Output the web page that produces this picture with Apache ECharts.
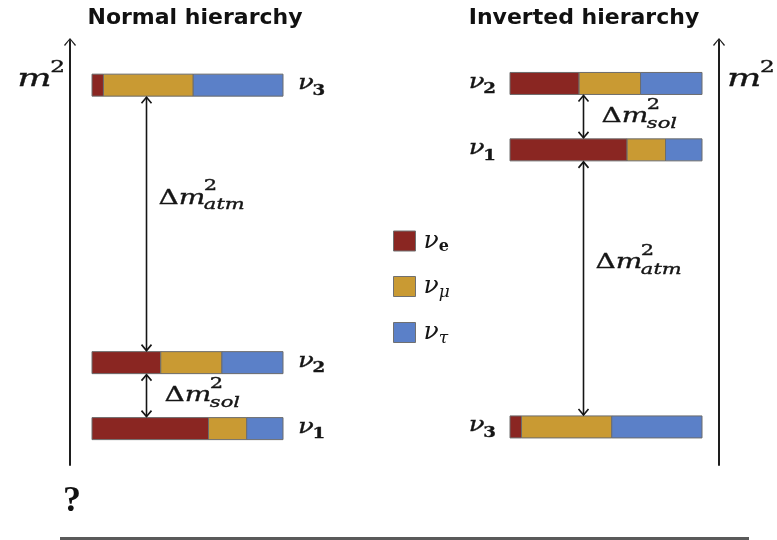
<!DOCTYPE html>
<html>
<head>
<meta charset="utf-8">
<script src="https://cdn.jsdelivr.net/npm/echarts@6/dist/echarts.min.js"></script>
<style>
  html, body { margin: 0; padding: 0; background: #ffffff; }
  #chart { width: 777px; height: 540px; }
</style>
</head>
<body>
<div id="chart"></div>
<script>
// Mass eigenstates ν1, ν2, ν3 and the flavour share of each one
const states = ['1', '2', '3'];
const flavours = ['e', 'μ', 'τ'];
const shareE   = [0.61, 0.36, 0.06];
const shareMu  = [0.20, 0.32, 0.47];
const shareTau = [0.19, 0.32, 0.47];

// Schematic m² level of ν1, ν2, ν3 in each ordering (axis runs 0 to 100)
const normalLevels   = [8.6, 24.2, 89.8];
const invertedLevels = [74.5, 90.2, 9.0];

// Splittings: [lower state, upper state, subscript of the label]
const normalGaps   = [[1, 2, 'atm'], [0, 1, 'sol']];
const invertedGaps = [[0, 1, 'sol'], [2, 0, 'atm']];

const panelTitles = ['Normal hierarchy', 'Inverted hierarchy'];

// ---------------------------------------------------------------- styling
const COLOURS = ['#8a2622', '#c99a33', '#5b80c8'];
const INK = '#151515';
const MATH_FAMILY = 'DejaVu Serif';
const MATH = '"DejaVu Serif", serif';
const BAR_H = 22;
const ARROW_X = [0.283, 0.38];   // horizontal place of the splitting arrows (fraction of bar)

const shares = [shareE, shareMu, shareTau];

const measureCtx = document.createElement('canvas').getContext('2d');
function textWidth(str, font) {
  measureCtx.font = font;
  return measureCtx.measureText(str).width;
}

// Builds a small math label: pieces run left to right; `stack` puts a piece
// under the previous one (sub below sup). Math is set a little wide.
function mathLabel(x, y, pieces, alignRight, stretch) {
  let cursor = 0, lastStart = 0;
  const children = [];
  pieces.forEach(p => {
    const start = p.stack ? lastStart : cursor;
    const w = textWidth(p.text, p.font);
    children.push({
      type: 'text', x: start, y: p.dy || 0,
      style: {
        text: p.text, font: p.font, fill: INK, stroke: INK, lineWidth: 0.35,
        align: 'left', verticalAlign: 'middle',
        textAlign: 'left', textVerticalAlign: 'middle'
      }
    });
    lastStart = start;
    cursor = Math.max(cursor, start + w + (p.gap || 0));
  });
  const width = cursor * stretch;
  return { type: 'group', x: alignRight ? x - width : x, y: y, scaleX: stretch, children: children };
}

function nuLabel(x, y, sub, alignRight) {
  return mathLabel(x, y, [
    { text: 'ν', font: 'italic 20px ' + MATH, gap: -1 },
    { text: sub, font: 'bold 14px ' + MATH, dy: 7 }
  ], alignRight, 1.3);
}

function deltaLabel(x, y, sub) {
  return mathLabel(x, y, [
    { text: 'Δ', font: '20px ' + MATH },
    { text: 'm', font: 'italic 20px ' + MATH, gap: -1 },
    { text: '2', font: '15px ' + MATH, dy: -12 },
    { text: sub, font: 'italic 15px ' + MATH, dy: 7, stack: true }
  ], false, 1.4);
}

function massLabel(x, y, alignRight) {
  return mathLabel(x, y, [
    { text: 'm', font: 'italic 25px ' + MATH, gap: -1 },
    { text: '2', font: '16px ' + MATH, dy: -11 }
  ], alignRight, 1.45);
}

// ---------------------------------------------------------------- series
function renderSegment(params, api) {
  const a = api.coord([api.value(0), api.value(2)]);
  const b = api.coord([api.value(1), api.value(2)]);
  return {
    type: 'rect',
    shape: { x: a[0], y: a[1] - BAR_H / 2, width: b[0] - a[0], height: BAR_H },
    style: { fill: api.visual('color'), stroke: '#6c6c6c', lineWidth: 1 }
  };
}

function flavourSeries(levels, g) {
  return flavours.map((f, k) => ({
    type: 'custom', name: f, xAxisIndex: g, yAxisIndex: g, silent: true,
    itemStyle: { color: COLOURS[k] },
    encode: { x: [0, 1], y: 2 },
    data: states.map((s, i) => {
      let start = 0;
      for (let j = 0; j < k; j++) start += shares[j][i];
      return [start, start + shares[k][i], levels[i]];
    }),
    renderItem: renderSegment
  }));
}

function stateLabelSeries(levels, g, onRight) {
  return {
    type: 'custom', xAxisIndex: g, yAxisIndex: g, silent: true,
    encode: { x: 0, y: 1 },
    data: levels.map(l => [onRight ? 1 : 0, l]),
    renderItem: (params, api) => {
      const p = api.coord([api.value(0), api.value(1)]);
      const x = onRight ? p[0] + 15 : p[0] - 14;
      return nuLabel(x, p[1] - 1, states[params.dataIndex], !onRight);
    }
  };
}

function gapSeries(levels, gaps, g) {
  return {
    type: 'custom', xAxisIndex: g, yAxisIndex: g, silent: true,
    encode: { x: 0, y: [1, 2] },
    data: gaps.map(gp => [ARROW_X[g], levels[gp[0]], levels[gp[1]]]),
    renderItem: (params, api) => {
      const lo = api.coord([api.value(0), api.value(1)]);
      const hi = api.coord([api.value(0), api.value(2)]);
      const x = Math.round(lo[0]) + 0.5;
      const yTop = hi[1] + BAR_H / 2 + 1;
      const yBot = lo[1] - BAR_H / 2 - 1;
      const kind = gaps[params.dataIndex][2];
      const ln = { stroke: INK, lineWidth: 1.6, fill: null };
      const ly = yTop + (yBot - yTop) * (kind === 'atm' ? 0.4 : 0.5);
      const lx = x + (kind === 'atm' ? 12 : 18);
      return {
        type: 'group',
        children: [
          { type: 'line', shape: { x1: x, y1: yTop, x2: x, y2: yBot }, style: ln },
          { type: 'polyline', shape: { points: [[x - 5, yTop + 6], [x, yTop], [x + 5, yTop + 6]] }, style: ln },
          { type: 'polyline', shape: { points: [[x - 5, yBot - 6], [x, yBot], [x + 5, yBot - 6]] }, style: ln },
          deltaLabel(lx, ly, kind)
        ]
      };
    }
  };
}

// ---------------------------------------------------------------- axes
const CHEVRON = 'path://M0,7 L6,0 L12,7 L11,8 L6.8,2.5 L6.8,8 L5.2,8 L5.2,2.5 L1,8 Z';
function massAxis(g, position, offset) {
  return {
    type: 'value', gridIndex: g, min: 0, max: 100, position: position, offset: offset,
    axisLine: {
      show: true, onZero: false,
      lineStyle: { color: '#1e1e1e', width: 2 },
      symbol: ['none', CHEVRON], symbolSize: [12, 8]
    },
    axisTick: { show: false }, axisLabel: { show: false }, splitLine: { show: false }
  };
}
function shareAxis(g) {
  return { type: 'value', gridIndex: g, min: 0, max: 1, show: false };
}

const option = {
  backgroundColor: '#ffffff',
  animation: false,
  color: COLOURS,
  title: panelTitles.map((t, i) => ({
    text: t, left: i === 0 ? 195 : 584, top: 7, textAlign: 'center', padding: 0,
    textStyle: { fontFamily: 'DejaVu Sans', fontWeight: 'bold', fontSize: 22, color: '#111' }
  })),
  grid: [
    { left: 92, width: 191, top: 42, bottom: 75 },
    { left: 510, width: 192, top: 42, bottom: 75 }
  ],
  xAxis: [shareAxis(0), shareAxis(1)],
  yAxis: [massAxis(0, 'left', 22), massAxis(1, 'right', 17)],
  legend: {
    orient: 'vertical', left: 393, top: 227, padding: 0,
    itemWidth: 22, itemHeight: 20, itemGap: 17, icon: 'rect',
    itemStyle: { borderColor: '#707070', borderWidth: 1 },
    data: flavours, selectedMode: false,
    formatter: name => '{nu|ν}{' + (name === 'e' ? 'sb' : 'si') + '|' + name + '}',
    textStyle: {
      rich: {
        nu: { fontFamily: MATH_FAMILY, fontStyle: 'italic', fontSize: 25, color: INK, lineHeight: 22, padding: [0, 0, 0, 3] },
        sb: { fontFamily: MATH_FAMILY, fontWeight: 'bold', fontSize: 16, color: INK, lineHeight: 14, padding: [12, 0, 0, 0] },
        si: { fontFamily: MATH_FAMILY, fontStyle: 'italic', fontSize: 17, color: INK, lineHeight: 15, padding: [12, 0, 0, 0] }
      }
    }
  },
  graphic: [
    massLabel(65, 79, true),
    massLabel(727, 79, false),
    { type: 'text', x: 63, y: 502,
      style: { text: '?', font: 'bold 36px "Liberation Serif", serif', fill: '#111',
               align: 'left', verticalAlign: 'middle', textAlign: 'left', textVerticalAlign: 'middle' } },
    { type: 'line', shape: { x1: 60, y1: 538.5, x2: 749, y2: 538.5 },
      style: { stroke: '#5a5a5a', lineWidth: 3 } }
  ],
  series: [].concat(
    flavourSeries(normalLevels, 0),
    flavourSeries(invertedLevels, 1),
    [stateLabelSeries(normalLevels, 0, true), stateLabelSeries(invertedLevels, 1, false)],
    [gapSeries(normalLevels, normalGaps, 0), gapSeries(invertedLevels, invertedGaps, 1)]
  )
};

const chart = echarts.init(document.getElementById('chart'));
chart.setOption(option);
</script>
</body>
</html>
